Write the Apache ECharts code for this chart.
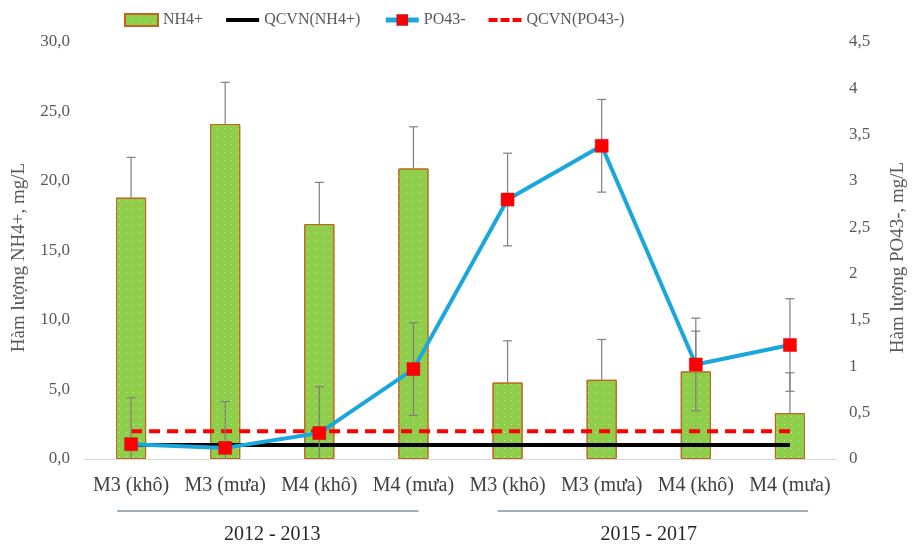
<!DOCTYPE html>
<html>
<head>
<meta charset="utf-8">
<script src="https://cdn.jsdelivr.net/npm/echarts@6/dist/echarts.min.js"></script>
<style>html,body{margin:0;padding:0;background:#fff}#c{width:916px;height:545px}</style>
</head>
<body>
<div id="c"></div>
<script>
var categories = ['M3 (khô)', 'M3 (mưa)', 'M4 (khô)', 'M4 (mưa)', 'M3 (khô)', 'M3 (mưa)', 'M4 (khô)', 'M4 (mưa)'];
var groups = ['2012 - 2013', '2015 - 2017'];
var nh4 = [18.8, 24.1, 16.9, 20.9, 5.5, 5.7, 6.3, 3.3];
var nh4Err = [2.9, 3.0, 3.0, 3.0, 3.0, 2.9, 2.9, 2.9];
var po4 = [0.16, 0.12, 0.28, 0.97, 2.80, 3.38, 1.02, 1.23];
var po4Err = [0.5, 0.5, 0.5, 0.5, 0.5, 0.5, 0.5, 0.5];
var qcvnNH4 = [1, 1, 1, 1, 1, 1, 1, 1];
var qcvnPO4 = [0.3, 0.3, 0.3, 0.3, 0.3, 0.3, 0.3, 0.3];
var leftTicks = ['0,0', '5,0', '10,0', '15,0', '20,0', '25,0', '30,0'];
var rightTicks = ['0', '0,5', '1', '1,5', '2', '2,5', '3', '3,5', '4', '4,5'];

var FONT = 'Liberation Serif';
var chart = echarts.init(document.getElementById('c'));

function errItem(capTop, capBottom) {
  return function (params, api) {
    var x = api.value(0);
    var lo = api.coord([x, api.value(1)]);
    var hi = api.coord([x, api.value(2)]);
    var h = 4.5;
    var st = { stroke: '#7f7f7f', lineWidth: 1.2 };
    var children = [{ type: 'line', shape: { x1: lo[0], y1: lo[1], x2: hi[0], y2: hi[1] }, style: st }];
    if (capTop) children.push({ type: 'line', shape: { x1: hi[0] - h, y1: hi[1], x2: hi[0] + h, y2: hi[1] }, style: st });
    if (capBottom) children.push({ type: 'line', shape: { x1: lo[0] - h, y1: lo[1], x2: lo[0] + h, y2: lo[1] }, style: st });
    return { type: 'group', children: children };
  };
}

var nh4ErrData = nh4.map(function (v, i) { return [i, v, v + nh4Err[i]]; });
var po4ErrData = po4.map(function (v, i) { return [i, v - po4Err[i], v + po4Err[i]]; });

var option = {
  animation: false,
  backgroundColor: '#fff',
  textStyle: { fontFamily: FONT },
  legend: {
    left: 119, top: 7, itemWidth: 33, itemHeight: 12, itemGap: 23,
    textStyle: { fontFamily: FONT, fontSize: 16, color: '#595959' },
    lineStyle: { width: 5 },
    data: [
      { name: 'NH4+', icon: 'rect' },
      { name: 'QCVN(NH4+)', icon: 'path://M0,0h33v4h-33z' },
      { name: 'PO43-' },
      { name: 'QCVN(PO43-)', icon: 'path://M0,0h9v4h-9zM12,0h9v4h-9zM24,0h9v4h-9z' }
    ]
  },
  grid: { left: 84, right: 78, top: 42, bottom: 86, containLabel: false },
  xAxis: [{
    type: 'category', data: categories, boundaryGap: true,
    axisLine: { lineStyle: { color: '#d9d9d9', width: 1 } },
    axisTick: { show: false },
    axisLabel: { fontFamily: FONT, fontSize: 20, color: '#404040', margin: 17, interval: 0 }
  }, {
    type: 'category', data: groups, position: 'bottom', offset: 62,
    axisLine: { show: false }, axisTick: { show: false },
    axisLabel: { fontFamily: FONT, fontSize: 20, color: '#262626', margin: 4 }
  }],
  yAxis: [{
    type: 'value', min: 0, max: 30, interval: 5,
    name: 'Hàm lượng NH4+, mg/L', nameLocation: 'middle', nameRotate: 90, nameGap: 55,
    nameTextStyle: { fontFamily: FONT, fontSize: 19, color: '#595959', padding: [0, 14, 0, 0] },
    axisLine: { show: false }, axisTick: { show: false }, splitLine: { show: false },
    axisLabel: { fontFamily: FONT, fontSize: 17, color: '#595959', margin: 14,
      formatter: function (v) { return leftTicks[Math.round(v / 5)]; } }
  }, {
    type: 'value', min: 0, max: 4.5, interval: 0.5, position: 'right',
    name: 'Hàm lượng PO43-, mg/L', nameLocation: 'middle', nameRotate: 90, nameGap: 52,
    nameTextStyle: { fontFamily: FONT, fontSize: 19, color: '#595959', padding: [0, 14, 0, 0] },
    axisLine: { show: false }, axisTick: { show: false }, splitLine: { show: false },
    axisLabel: { fontFamily: FONT, fontSize: 17, color: '#595959', margin: 12,
      formatter: function (v) { return rightTicks[Math.round(v / 0.5)]; } }
  }],
  series: [{
    name: 'NH4+', type: 'bar', data: nh4, barWidth: '32%', z: 2,
    itemStyle: {
      color: '#8fce4b', borderColor: '#c0651e', borderWidth: 1,
      decal: { symbol: 'rect', symbolSize: 1, dashArrayX: [1, 6], dashArrayY: [1, 7], color: 'rgba(255,255,255,0.55)', rotation: 0 }
    }
  }, {
    name: 'nh4err', type: 'custom', data: nh4ErrData, renderItem: errItem(true, false), z: 3, clip: true,
    encode: { x: 0, y: [1, 2] }, yAxisIndex: 0, silent: true
  }, {
    name: 'QCVN(NH4+)', type: 'line', data: qcvnNH4, yAxisIndex: 0, symbol: 'none', z: 4,
    lineStyle: { color: '#000', width: 4 }, itemStyle: { color: '#000' }
  }, {
    name: 'QCVN(PO43-)', type: 'line', data: qcvnPO4, yAxisIndex: 1, symbol: 'none', z: 4,
    lineStyle: { color: '#ff0000', width: 4, type: [11, 7] }, itemStyle: { color: '#ff0000' }
  }, {
    name: 'po4err', type: 'custom', data: po4ErrData, renderItem: errItem(true, true), z: 5, clip: true,
    encode: { x: 0, y: [1, 2] }, yAxisIndex: 1, silent: true
  }, {
    name: 'PO43-', type: 'line', data: po4, yAxisIndex: 1, z: 6,
    symbol: 'rect', symbolSize: 13,
    lineStyle: { color: '#1aa7dc', width: 4 },
    itemStyle: { color: '#ff0000', borderColor: '#d01010', borderWidth: 0.5 }
  }]
};
chart.setOption(option);

function drawGroupLines() {
  var c0 = chart.convertToPixel({ xAxisIndex: 0 }, 0);
  var c3 = chart.convertToPixel({ xAxisIndex: 0 }, 3);
  var c4 = chart.convertToPixel({ xAxisIndex: 0 }, 4);
  var c7 = chart.convertToPixel({ xAxisIndex: 0 }, 7);
  var y0 = chart.convertToPixel({ yAxisIndex: 0 }, 0) + 52;
  chart.setOption({
    graphic: [
      { type: 'line', shape: { x1: c0 - 14, y1: y0, x2: c3 + 5, y2: y0 }, style: { stroke: '#4a5a70', lineWidth: 1 } },
      { type: 'line', shape: { x1: c4 - 10, y1: y0, x2: c7 + 18, y2: y0 }, style: { stroke: '#4a5a70', lineWidth: 1 } }
    ]
  });
}
drawGroupLines();
</script>
</body>
</html>
